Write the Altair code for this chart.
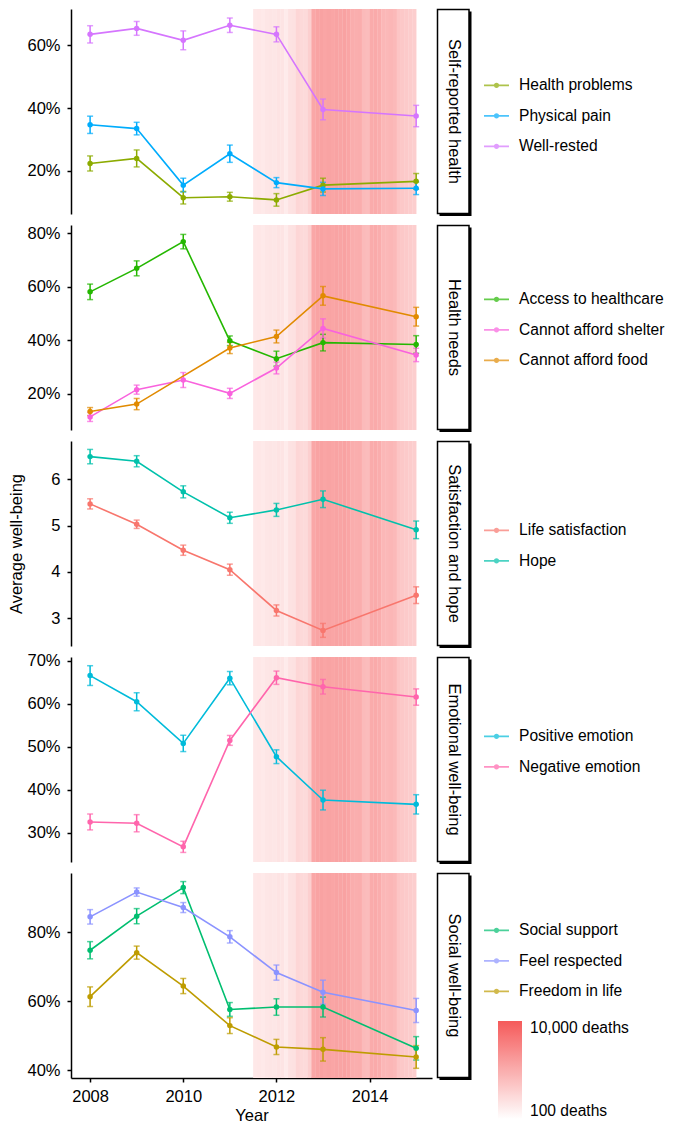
import altair as alt
import pandas as pd

# ---------------- data ----------------
YEARS = [2008, 2009, 2010, 2011, 2012, 2013, 2015]

PANELS = ["Self-reported health", "Health needs", "Satisfaction and hope",
          "Emotional well-being", "Social well-being"]

PANEL_SERIES = [
    ["Health problems", "Physical pain", "Well-rested"],
    ["Access to healthcare", "Cannot afford shelter", "Cannot afford food"],
    ["Life satisfaction", "Hope"],
    ["Positive emotion", "Negative emotion"],
    ["Social support", "Feel respected", "Freedom in life"],
]

COLORS = {
    "Health problems": "#8CAB00", "Physical pain": "#00ACFC", "Well-rested": "#D575FE",
    "Access to healthcare": "#24B700", "Cannot afford shelter": "#F962DD",
    "Cannot afford food": "#E18A00", "Life satisfaction": "#F8766D", "Hope": "#00C1AB",
    "Positive emotion": "#00BBDA", "Negative emotion": "#FF65AC",
    "Social support": "#00BE70", "Feel respected": "#8B93FF", "Freedom in life": "#BE9C00",
}

# values (percent or 0-10 score) and standard errors, one per year in YEARS
health_problems = [22.4, 24.0, 11.5, 11.8, 10.8, 15.5, 16.7]
health_problems_err = [2.4, 2.7, 2.0, 1.4, 2.0, 2.2, 2.5]
physical_pain = [34.7, 33.5, 15.5, 25.5, 16.3, 14.3, 14.5]
physical_pain_err = [2.75, 2.0, 2.2, 2.75, 1.6, 2.1, 2.0]
well_rested = [63.5, 65.4, 61.6, 66.4, 63.5, 39.6, 37.5]
well_rested_err = [2.75, 2.2, 3.0, 2.3, 2.4, 3.3, 3.4]

access_healthcare = [58.1, 66.9, 76.9, 39.8, 33.1, 39.1, 38.4]
access_healthcare_err = [2.9, 2.8, 2.7, 1.8, 2.8, 3.1, 3.3]
afford_shelter = [11.3, 21.5, 25.1, 20.1, 29.6, 44.4, 34.5]
afford_shelter_err = [1.7, 1.7, 2.8, 1.9, 2.2, 3.6, 2.5]
afford_food = [13.3, 16.1, None, 37.1, 41.4, 56.6, 48.8]
afford_food_err = [1.5, 2.1, None, 2.1, 2.4, 3.5, 3.5]

life_satisfaction = [5.47, 5.03, 4.47, 4.05, 3.17, 2.74, 3.50]
life_satisfaction_err = [0.11, 0.09, 0.11, 0.12, 0.12, 0.15, 0.18]
hope = [6.49, 6.39, 5.73, 5.17, 5.34, 5.57, 4.91]
hope_err = [0.155, 0.12, 0.13, 0.12, 0.14, 0.18, 0.19]

positive_emotion = [66.6, 60.5, 50.8, 66.0, 47.7, 37.6, 36.6]
positive_emotion_err = [2.3, 2.1, 1.9, 1.55, 1.6, 2.3, 2.25]
negative_emotion = [32.5, 32.2, 26.7, 51.5, 66.1, 64.0, 61.6]
negative_emotion_err = [1.85, 2.0, 1.3, 1.15, 1.55, 1.7, 1.9]

social_support = [74.8, 84.7, 93.0, 57.6, 58.3, 58.3, 46.3]
social_support_err = [2.5, 2.2, 1.75, 2.0, 2.4, 2.9, 3.4]
feel_respected = [84.5, 91.7, 87.2, 78.7, 68.3, 62.6, 57.3]
feel_respected_err = [2.1, 1.2, 1.45, 1.8, 2.2, 3.5, 3.5]
freedom_in_life = [61.3, 74.1, 64.4, 52.9, 46.7, 46.0, 43.8]
freedom_in_life_err = [2.85, 1.9, 2.2, 2.3, 2.2, 3.4, 3.3]

SERIES_DATA = {
    "Health problems": (health_problems, health_problems_err),
    "Physical pain": (physical_pain, physical_pain_err),
    "Well-rested": (well_rested, well_rested_err),
    "Access to healthcare": (access_healthcare, access_healthcare_err),
    "Cannot afford shelter": (afford_shelter, afford_shelter_err),
    "Cannot afford food": (afford_food, afford_food_err),
    "Life satisfaction": (life_satisfaction, life_satisfaction_err),
    "Hope": (hope, hope_err),
    "Positive emotion": (positive_emotion, positive_emotion_err),
    "Negative emotion": (negative_emotion, negative_emotion_err),
    "Social support": (social_support, social_support_err),
    "Feel respected": (feel_respected, feel_respected_err),
    "Freedom in life": (freedom_in_life, freedom_in_life_err),
}

# monthly conflict deaths, July 2011 .. December 2014
DEATH_MONTHS = [f"{y}-{m:02d}" for y in (2011, 2012, 2013, 2014) for m in range(1, 13)][6:]
DEATHS = [190, 195, 185, 200, 205, 200,
          220, 215, 175, 225, 230, 315, 290, 280, 385,
          1150, 1300, 1350, 1250, 1300, 1250, 1320, 1280, 1330, 1220,
          1000, 960, 990, 680, 650, 1030, 1080, 1000,
          750, 730, 770, 710, 500, 470, 440, 410, 390]

Y_DOMAINS = [[6.31, 71.57], [6.40, 83.12], [2.403, 6.827], [23.17, 70.93], [37.68, 97.24]]
Y_TICKS = [[20, 40, 60], [20, 40, 60, 80], [3, 4, 5, 6], [30, 40, 50, 60, 70], [40, 60, 80]]
X_DOMAIN = [2007.59, 2015.34]
X_TICKS = [2008, 2010, 2012, 2014]

# ---------------- tables ----------------
rows = []
for p, names in zip(PANELS, PANEL_SERIES):
    for n in names:
        vals, errs = SERIES_DATA[n]
        for yr, v, e in zip(YEARS, vals, errs):
            if v is None:
                continue
            rows.append({"panel": p, "series": n, "year": yr, "value": v,
                         "lo": v - e, "hi": v + e})
df = pd.DataFrame(rows)

deaths_df = pd.DataFrame({"month": DEATH_MONTHS, "deaths": DEATHS})
deaths_df["start"] = deaths_df["month"].str[:4].astype(int) + (deaths_df["month"].str[5:].astype(int) - 1) / 12
# small overlap so adjacent monthly bands leave no anti-aliasing seams
deaths_df["end"] = deaths_df["start"] + 1 / 12 + 0.006

W, H = 361, 205
FS = 16.5
LFS = 15.6
SYMBOL = "M-1,0L1,0M0.14,0A0.14,0.14 0 1 1 -0.14,0A0.14,0.14 0 1 1 0.14,0Z"
LEG_Y = [62.8, 60.8, 75.8, 65.8, 43.8]


def make_panel(i):
    name = PANELS[i]
    names = PANEL_SERIES[i]
    sdf = df[df.panel == name]
    xscale = alt.Scale(domain=X_DOMAIN, nice=False, zero=False)
    yscale = alt.Scale(domain=Y_DOMAINS[i], nice=False, zero=False)
    if i == 4:
        xaxis = alt.Axis(values=X_TICKS, format="d", title="Year", titlePadding=3,
                         labelPadding=6)
    else:
        xaxis = None
    label_expr = "datum.value" if i == 2 else "datum.value + '%'"
    if i == 2:
        yaxis = alt.Axis(values=Y_TICKS[i], labelExpr=label_expr, title="Average well-being",
                         titlePadding=26)
    else:
        yaxis = alt.Axis(values=Y_TICKS[i], labelExpr=label_expr, title=None)
    cscale = alt.Scale(domain=names, range=[COLORS[n] for n in names])
    legend = alt.Legend(title=None, orient="none", legendX=412, legendY=LEG_Y[i],
                        symbolType=SYMBOL, symbolSize=625, symbolStrokeWidth=1.8,
                        labelFontSize=LFS, labelOffset=9, rowPadding=7.5, padding=0,
                        labelColor="black", labelLimit=300)
    color = alt.Color("series:N", scale=cscale, legend=legend)
    x = alt.X("year:Q", scale=xscale, axis=xaxis)

    if i == 4:
        fill_legend = alt.Legend(title=None, orient="none", legendX=427, legendY=148,
                                 type="gradient", direction="vertical", gradientLength=98,
                                 gradientThickness=24, gradientStrokeWidth=0,
                                 values=[100, 10000], labelFontSize=LFS, labelOffset=8,
                                 labelColor="black", labelLimit=300,
                                 labelExpr="datum.value >= 10000 ? '10,000 deaths' : '100 deaths'")
    else:
        fill_legend = None

    shade = alt.Chart(deaths_df).mark_rect().encode(
        x=alt.X("start:Q", scale=xscale, axis=xaxis),
        x2="end:Q",
        y=alt.value(0), y2=alt.value(H),
        fill=alt.Fill("deaths:Q",
                      scale=alt.Scale(type="log", domain=[100, 10000],
                                      range=["#FFFFFF", "#F55A5A"], interpolate="rgb"),
                      legend=fill_legend),
    )
    base = alt.Chart(sdf)
    err = base.mark_errorbar(ticks={"size": 6, "thickness": 1.5}, thickness=1.5).encode(
        x=x, y=alt.Y("lo:Q", scale=yscale, axis=yaxis), y2="hi:Q", color=color)
    line = base.mark_line(strokeWidth=1.6).encode(
        x=x, y=alt.Y("value:Q", scale=yscale, axis=yaxis), color=color)
    pts = base.mark_point(filled=True, size=30, opacity=1).encode(
        x=x, y=alt.Y("value:Q", scale=yscale, axis=yaxis), color=color)

    strip_df = pd.DataFrame({"panel": [name]})
    shadow = alt.Chart(strip_df).mark_rect(fill="black").encode(
        x=alt.value(W + 7.5), x2=alt.value(W + 39.5), y=alt.value(2.5), y2=alt.value(H + 2))
    box = alt.Chart(strip_df).mark_rect(fill="white", stroke="black", strokeWidth=1.5).encode(
        x=alt.value(W + 5.5), x2=alt.value(W + 37), y=alt.value(0.5), y2=alt.value(H - 0.5))
    txt = alt.Chart(strip_df).mark_text(angle=90, fontSize=FS, align="center",
                                        baseline="middle", color="black").encode(
        x=alt.value(W + 21.5), y=alt.value(H / 2), text="panel:N")

    return alt.layer(shade, err, line, pts, shadow, box, txt).properties(width=W, height=H)


panels = [make_panel(i) for i in range(5)]

chart = alt.VConcatChart(vconcat=panels, spacing=11, bounds="flush").resolve_scale(
    color="independent", fill="independent", x="independent", y="independent"
).properties(padding={"left": 0, "top": 0, "right": 0, "bottom": 0}).configure(
    font="Liberation Sans"
).configure_view(
    stroke=None
).configure_axis(
    domainColor="black", domainWidth=1.5, tickColor="black", tickWidth=1.5, tickSize=4,
    labelFontSize=FS, labelColor="black", labelPadding=7, grid=False,
    titleFontSize=FS, titleFontWeight="normal", titleColor="black",
)

chart.save("out.html", embed_options={"renderer": "svg", "actions": False})
